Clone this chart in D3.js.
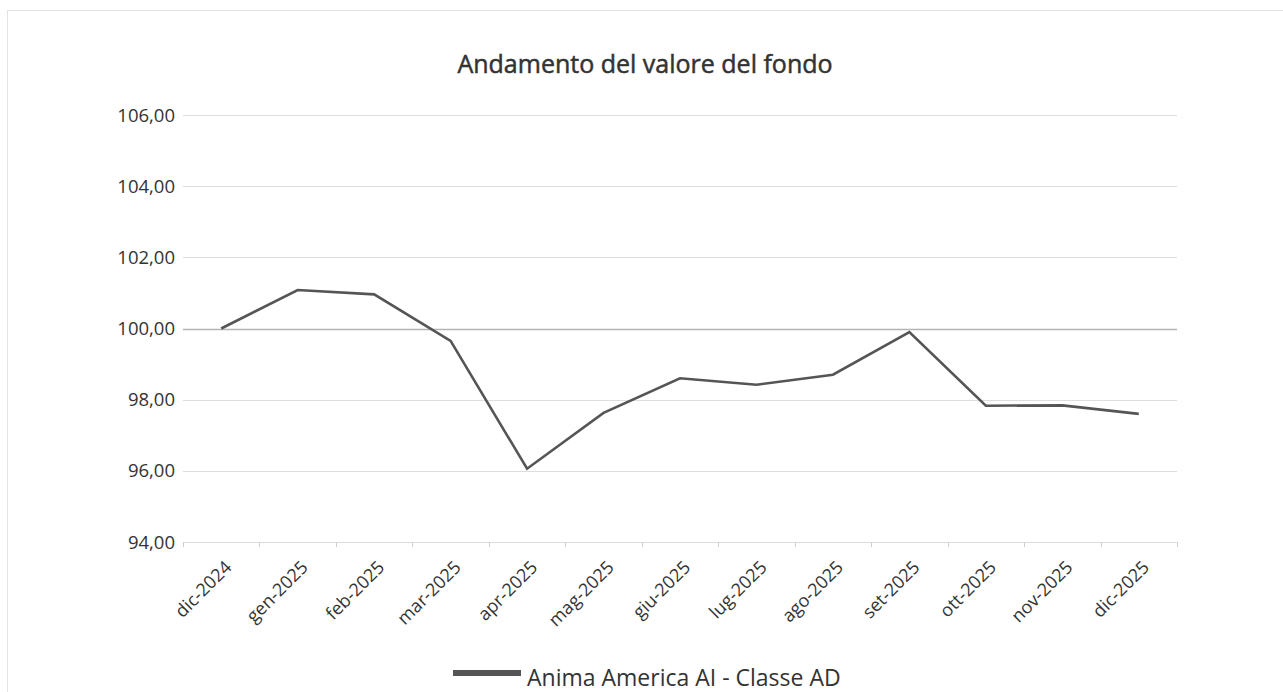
<!DOCTYPE html>
<html>
<head>
<meta charset="utf-8">
<script src="https://cdn.jsdelivr.net/npm/d3@7"></script>
<style>
  body { margin: 0; background: #fff; }
  svg { font-family: "Open Sans", "DejaVu Sans", sans-serif; }
</style>
</head>
<body>
<div id="chart"></div>
<script>
(function () {
    'use strict';
    var months = ['dic-2024', 'gen-2025', 'feb-2025', 'mar-2025', 'apr-2025', 'mag-2025',
        'giu-2025', 'lug-2025', 'ago-2025', 'set-2025', 'ott-2025', 'nov-2025', 'dic-2025'];
    var values = [100.00, 101.08, 100.96, 99.65, 96.06, 97.63, 98.60, 98.42, 98.70, 99.90, 97.83, 97.84, 97.60];
    var yTicks = [94, 96, 98, 100, 102, 104, 106];
    var seriesName = 'Anima America AI - Classe AD';

    var width = 1283, height = 692;
    var margin = { left: 183, right: 106, top: 115, bottom: 150 };

    var svg = d3.select('#chart').append('svg')
        .attr('width', width)
        .attr('height', height);

    // frame
    svg.append('rect')
        .attr('x', 7.5).attr('y', 10.5)
        .attr('width', 1290).attr('height', 700)
        .attr('fill', 'none').attr('stroke', '#e3e3e3');

    var x = d3.scaleBand().domain(months)
        .range([margin.left, width - margin.right]);
    var y = d3.scaleLinear().domain([94, 106])
        .range([height - margin.bottom, margin.top]);

    var fmt = function (d) { return d3.format('.2f')(d).replace('.', ','); };

    // gridlines
    svg.append('g').selectAll('line').data(yTicks).enter()
        .append('line')
        .attr('x1', margin.left).attr('x2', width - margin.right)
        .attr('y1', function (d) { return Math.round(y(d)) + 0.5; })
        .attr('y2', function (d) { return Math.round(y(d)) + 0.5; })
        .attr('stroke', function (d) { return d === 100 ? '#b4b4b4' : '#dedede'; })
        .attr('stroke-width', function (d) { return d === 100 ? 1.5 : 1; });

    // y labels
    svg.append('g').selectAll('text').data(yTicks).enter()
        .append('text')
        .attr('x', margin.left - 8)
        .attr('y', function (d) { return y(d); })
        .attr('dy', '0.36em')
        .attr('text-anchor', 'end')
        .attr('font-size', 18.5)
        .attr('fill', '#333')
        .text(fmt);

    // x axis ticks
    var ticks = months.map(function (m) { return x(m); }).concat([width - margin.right]);
    svg.append('g').selectAll('line').data(ticks).enter()
        .append('line')
        .attr('x1', function (d) { return Math.round(d) + 0.5; })
        .attr('x2', function (d) { return Math.round(d) + 0.5; })
        .attr('y1', y(94)).attr('y2', y(94) + 5)
        .attr('stroke', '#cfcfcf');

    svg.append('g').selectAll('text').data(months).enter()
        .append('text')
        .attr('transform', function (d) {
            return 'translate(' + (x(d) + x.bandwidth() / 2 + 7) + ',' + (y(94) + 22) + ') rotate(-45)';
        })
        .attr('text-anchor', 'end')
        .attr('dy', '0.35em')
        .attr('font-size', 18)
        .attr('fill', '#333')
        .text(function (d) { return d; });

    // line
    var line = d3.line()
        .x(function (d, i) { return x(months[i]) + x.bandwidth() / 2; })
        .y(function (d) { return y(d); });
    svg.append('path')
        .datum(values)
        .attr('d', line)
        .attr('fill', 'none')
        .attr('stroke', '#555')
        .attr('stroke-width', 2.6);

    // title (regular face with a thin outline to get the medium weight)
    svg.append('text')
        .attr('x', 645).attr('y', 73)
        .attr('text-anchor', 'middle')
        .attr('font-size', 25)
        .attr('fill', '#333')
        .attr('stroke', '#333')
        .attr('stroke-width', 0.5)
        .text('Andamento del valore del fondo');

    // legend
    var lg = svg.append('g');
    lg.append('line')
        .attr('x1', 453).attr('x2', 521)
        .attr('y1', 673).attr('y2', 673)
        .attr('stroke', '#555').attr('stroke-width', 6);
    lg.append('text')
        .attr('x', 527).attr('y', 686)
        .attr('font-size', 23)
        .attr('fill', '#333')
        .text(seriesName);
}());
</script>
</body>
</html>
